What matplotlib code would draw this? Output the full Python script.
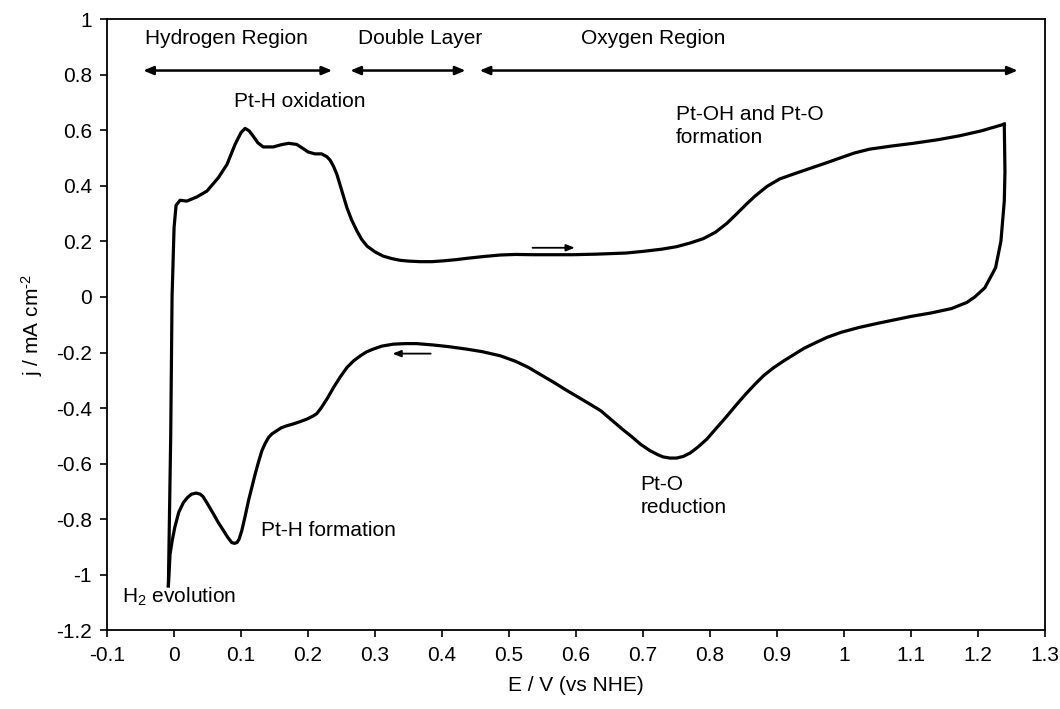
import matplotlib
matplotlib.use("Agg")
import matplotlib.pyplot as plt

plt.rcParams['font.family'] = ['Liberation Sans', 'DejaVu Sans']
plt.rcParams['mathtext.fontset'] = 'custom'
plt.rcParams['mathtext.rm'] = 'Liberation Sans'
plt.rcParams['mathtext.it'] = 'Liberation Sans:italic'
plt.rcParams['mathtext.bf'] = 'Liberation Sans:bold'

# Anodic (forward) scan
anodic_E = [-0.0085, -0.005, -0.003, 0.000, 0.003, 0.009, 0.019, 0.034, 0.049, 0.066,
            0.079, 0.091, 0.100, 0.106, 0.112, 0.118, 0.125, 0.133, 0.148, 0.160,
            0.171, 0.183, 0.192, 0.200, 0.210, 0.220, 0.228, 0.233, 0.238, 0.243,
            0.250, 0.258, 0.265, 0.273, 0.280, 0.288, 0.300, 0.312, 0.325, 0.337,
            0.350, 0.367, 0.385, 0.402, 0.420, 0.437, 0.460, 0.487, 0.510, 0.536,
            0.560, 0.594, 0.630, 0.674, 0.700, 0.728, 0.750, 0.770, 0.790, 0.808,
            0.825, 0.840, 0.855, 0.867, 0.885, 0.904, 0.930, 0.953, 0.975, 0.996,
            1.015, 1.038, 1.070, 1.103, 1.140, 1.172, 1.205, 1.239]
anodic_j = [-1.04, -0.50, 0.00, 0.25, 0.33, 0.348, 0.345, 0.360, 0.381, 0.429,
            0.477, 0.549, 0.592, 0.607, 0.598, 0.579, 0.555, 0.540, 0.540, 0.548,
            0.553, 0.549, 0.535, 0.522, 0.515, 0.515, 0.505, 0.492, 0.470, 0.441,
            0.385, 0.321, 0.277, 0.237, 0.207, 0.183, 0.162, 0.147, 0.138, 0.132,
            0.129, 0.127, 0.127, 0.130, 0.134, 0.139, 0.145, 0.151, 0.153, 0.152,
            0.152, 0.152, 0.154, 0.158, 0.164, 0.172, 0.181, 0.194, 0.210, 0.233,
            0.265, 0.300, 0.336, 0.363, 0.398, 0.425, 0.447, 0.466, 0.484, 0.502,
            0.518, 0.532, 0.543, 0.553, 0.566, 0.580, 0.598, 0.622]

# Cathodic (reverse) scan
cathodic_E = [1.239, 1.240, 1.239, 1.234, 1.226, 1.210, 1.195, 1.183, 1.160, 1.129,
              1.100, 1.076, 1.050, 1.022, 0.996, 0.975, 0.958, 0.940, 0.926, 0.910,
              0.894, 0.880, 0.867, 0.853, 0.840, 0.824, 0.808, 0.795, 0.781, 0.770,
              0.760, 0.750, 0.740, 0.730, 0.722, 0.710, 0.696, 0.683, 0.669, 0.653,
              0.637, 0.620, 0.604, 0.585, 0.567, 0.548, 0.529, 0.510, 0.487, 0.460,
              0.437, 0.410, 0.387, 0.362, 0.345, 0.327, 0.310, 0.297, 0.287, 0.278,
              0.268, 0.258, 0.248, 0.238, 0.229, 0.220, 0.213, 0.208, 0.198, 0.188,
              0.178, 0.168, 0.160, 0.153, 0.146, 0.141, 0.136, 0.131, 0.126, 0.121,
              0.116, 0.111, 0.106, 0.101, 0.097, 0.094, 0.090, 0.086, 0.080, 0.074,
              0.066, 0.059, 0.050, 0.043, 0.039, 0.033, 0.026, 0.020, 0.014, 0.007,
              0.001, -0.003, -0.006, -0.0085]
cathodic_j = [0.622, 0.45, 0.345, 0.201, 0.105, 0.033, 0.000, -0.020, -0.042, -0.058,
              -0.070, -0.082, -0.095, -0.110, -0.127, -0.145, -0.164, -0.185, -0.206, -0.230,
              -0.256, -0.283, -0.314, -0.350, -0.386, -0.432, -0.476, -0.512, -0.542, -0.562,
              -0.574, -0.580, -0.580, -0.576, -0.568, -0.553, -0.530, -0.503, -0.476, -0.443,
              -0.410, -0.385, -0.362, -0.335, -0.308, -0.281, -0.254, -0.232, -0.212, -0.197,
              -0.188, -0.179, -0.173, -0.168, -0.168, -0.170, -0.177, -0.188, -0.198, -0.212,
              -0.230, -0.254, -0.288, -0.326, -0.364, -0.398, -0.420, -0.428, -0.440, -0.449,
              -0.457, -0.464, -0.471, -0.482, -0.493, -0.506, -0.527, -0.554, -0.594, -0.638,
              -0.686, -0.734, -0.790, -0.842, -0.872, -0.884, -0.887, -0.884, -0.865, -0.842,
              -0.812, -0.782, -0.745, -0.718, -0.710, -0.706, -0.710, -0.722, -0.740, -0.775,
              -0.830, -0.880, -0.926, -1.04]

x_ticks = [-0.1, 0, 0.1, 0.2, 0.3, 0.4, 0.5, 0.6, 0.7, 0.8, 0.9, 1, 1.1, 1.2, 1.3]
x_ticklabels = ['-0.1', '0', '0.1', '0.2', '0.3', '0.4', '0.5', '0.6', '0.7', '0.8',
                '0.9', '1', '1.1', '1.2', '1.3']
y_ticks = [-1.2, -1, -0.8, -0.6, -0.4, -0.2, 0, 0.2, 0.4, 0.6, 0.8, 1]
y_ticklabels = ['-1.2', '-1', '-0.8', '-0.6', '-0.4', '-0.2', '0', '0.2', '0.4', '0.6', '0.8', '1']

FS = 15

fig = plt.figure(figsize=(10.6, 7.09), dpi=100)
ax = fig.add_axes([0.101, 0.111, 0.885, 0.862])

ax.plot(anodic_E, anodic_j, color='black', lw=2.3, solid_joinstyle='round')
ax.plot(cathodic_E, cathodic_j, color='black', lw=2.3, solid_joinstyle='round')

ax.set_xlim(-0.1, 1.3)
ax.set_ylim(-1.2, 1.0)
ax.set_xticks(x_ticks)
ax.set_xticklabels(x_ticklabels, fontsize=FS)
ax.set_yticks(y_ticks)
ax.set_yticklabels(y_ticklabels, fontsize=FS)
ax.tick_params(direction='out', length=5, width=1.2, pad=6)
for s in ax.spines.values():
    s.set_linewidth(1.3)

ax.set_xlabel('E / V (vs NHE)', fontsize=FS, labelpad=8)
ax.set_ylabel('j / mA cm$^{\\text{-2}}$', fontsize=FS, labelpad=8)

# Region labels and arrows
ax.text(0.078, 0.93, 'Hydrogen Region', fontsize=FS, ha='center', va='center')
ax.text(0.367, 0.93, 'Double Layer', fontsize=FS, ha='center', va='center')
ax.text(0.715, 0.93, 'Oxygen Region', fontsize=FS, ha='center', va='center')

arrow_kw = dict(arrowstyle='<|-|>,head_length=0.6,head_width=0.25', color='black', lw=1.8,
                shrinkA=0, shrinkB=0)
ax.annotate('', xy=(0.236, 0.815), xytext=(-0.046, 0.815), arrowprops=arrow_kw)
ax.annotate('', xy=(0.435, 0.815), xytext=(0.263, 0.815), arrowprops=arrow_kw)
ax.annotate('', xy=(1.259, 0.815), xytext=(0.456, 0.815), arrowprops=arrow_kw)

# Scan direction arrows
dir_kw = dict(arrowstyle='-|>,head_length=0.5,head_width=0.2', color='black', lw=1.3,
              shrinkA=0, shrinkB=0)
ax.annotate('', xy=(0.598, 0.177), xytext=(0.535, 0.177), arrowprops=dir_kw)
ax.annotate('', xy=(0.326, -0.204), xytext=(0.383, -0.204), arrowprops=dir_kw)

# Annotations
ax.text(0.188, 0.705, 'Pt-H oxidation', fontsize=FS, ha='center', va='center')
ax.text(0.749, 0.615, 'Pt-OH and Pt-O\nformation', fontsize=FS, ha='left', va='center',
        linespacing=1.25)
ax.text(0.130, -0.842, 'Pt-H formation', fontsize=FS, ha='left', va='center')
ax.text(-0.078, -1.08, 'H$_2$ evolution', fontsize=FS, ha='left', va='center')
ax.text(0.696, -0.716, 'Pt-O\nreduction', fontsize=FS, ha='left', va='center',
        linespacing=1.25)

fig.savefig('out.png', dpi=100)
